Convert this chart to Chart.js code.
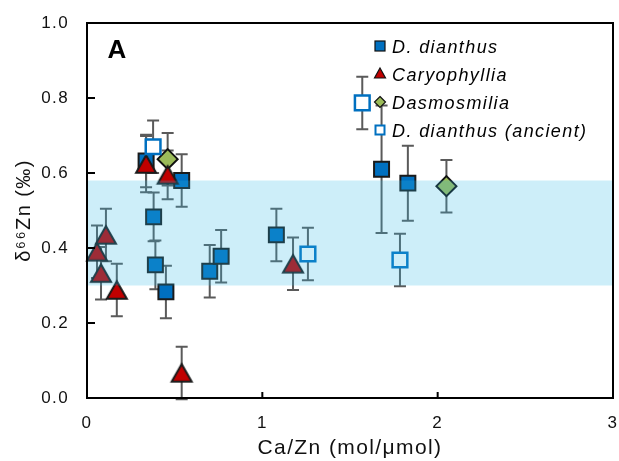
<!DOCTYPE html>
<html><head><meta charset="utf-8">
<script src="https://cdn.jsdelivr.net/npm/chart.js@4"></script>
<style>html,body{margin:0;padding:0;background:#fff}</style>
</head><body>
<canvas id="c" width="619" height="461"></canvas>
<script>
// ---- data ----
const ddX   = [0.337, 0.38, 0.39, 0.45, 0.54, 0.70, 0.765, 1.08, 1.68, 1.83];
const ddY   = [0.632, 0.483, 0.355, 0.283, 0.58, 0.338, 0.378, 0.435, 0.61, 0.573];
const ddErr = [0.07, 0.065, 0.065, 0.07, 0.07, 0.07, 0.07, 0.07, 0.17, 0.10];

const caX   = [0.057, 0.08, 0.108, 0.17, 0.337, 0.46, 0.54, 1.175];
const caY   = [0.39, 0.333, 0.435, 0.288, 0.624, 0.595, 0.067, 0.358];
const caErr = [0.07, 0.07, 0.07, 0.07, 0.075, 0.065, 0.07, 0.07];

const daX   = [0.46, 2.05];
const daY   = [0.637, 0.565];
const daErr = [0.07, 0.07];

const anX   = [0.377, 1.26, 1.57, 1.785];
const anY   = [0.67, 0.384, 0.787, 0.368];
const anErr = [0.07, 0.07, 0.07, 0.07];

const bandRange = [0.30, 0.58];
const seriesNames = ['D. dianthus', 'Caryophyllia', 'Dasmosmilia', 'D. dianthus (ancient)'];
const xTicks = [0, 1, 2, 3];
const yTicks = [0, 0.2, 0.4, 0.6, 0.8, 1.0];

const FONT = "'Liberation Sans', Arial, sans-serif";
const SPACING = '1.4px';

function triCanvas(side, fill, stroke, lw) {
  const h = side * Math.sqrt(3) / 2, pad = 3;
  const c = document.createElement('canvas');
  c.width = Math.ceil(side + pad * 2); c.height = Math.ceil(h + pad * 2);
  const g = c.getContext('2d');
  const cx = c.width / 2, top = (c.height - h) / 2;
  g.beginPath(); g.moveTo(cx, top); g.lineTo(cx + side / 2, top + h); g.lineTo(cx - side / 2, top + h); g.closePath();
  g.fillStyle = fill; g.fill(); g.lineWidth = lw; g.lineJoin = 'miter'; g.strokeStyle = stroke; g.stroke();
  return c;
}
const triImg = triCanvas(20, '#c00000', '#1a1a1a', 2);

const pts = (xs, ys) => xs.map((x, i) => ({x, y: ys[i]}));
const errGroups = [[ddX, ddY, ddErr], [caX, caY, caErr], [daX, daY, daErr], [anX, anY, anErr]];

const spacingPlugin = { id: 'spacing', beforeDraw(chart) { chart.ctx.letterSpacing = SPACING; } };

const errPlugin = {
  id: 'errbars',
  beforeDatasetsDraw(chart) {
    const {ctx, scales: {x, y}} = chart;
    ctx.save(); ctx.strokeStyle = '#5a5a5a'; ctx.lineWidth = 2;
    errGroups.forEach(([xs, ys, es]) => xs.forEach((xv, i) => {
      const px = x.getPixelForValue(xv);
      const t = y.getPixelForValue(ys[i] + es[i]), b = y.getPixelForValue(ys[i] - es[i]);
      ctx.beginPath();
      ctx.moveTo(px, t); ctx.lineTo(px, b);
      ctx.moveTo(px - 6, t); ctx.lineTo(px + 6, t);
      ctx.moveTo(px - 6, b); ctx.lineTo(px + 6, b);
      ctx.stroke();
    }));
    ctx.restore();
  }
};

const bandPlugin = {
  id: 'band',
  afterDatasetsDraw(chart) {
    const {ctx, chartArea: ca, scales: {y}} = chart;
    const t = y.getPixelForValue(bandRange[1]), b = y.getPixelForValue(bandRange[0]);
    ctx.save(); ctx.fillStyle = 'rgba(47,184,230,0.24)';
    ctx.fillRect(ca.left, t, ca.right - ca.left, b - t);
    ctx.restore();
  }
};

const framePlugin = {
  id: 'frame',
  afterDraw(chart) {
    const {ctx, chartArea: ca, scales: {x, y}} = chart;
    ctx.save();
    ctx.strokeStyle = '#000'; ctx.lineWidth = 2;
    ctx.strokeRect(ca.left, ca.top, ca.right - ca.left, ca.bottom - ca.top);
    ctx.beginPath();
    yTicks.forEach(v => { const p = y.getPixelForValue(v); ctx.moveTo(ca.left, p); ctx.lineTo(ca.left + 8, p); });
    xTicks.forEach(v => { const p = x.getPixelForValue(v); ctx.moveTo(p, ca.bottom); ctx.lineTo(p, ca.bottom - 6); });
    ctx.stroke();

    // panel letter
    ctx.letterSpacing = '0px';
    ctx.fillStyle = '#000'; ctx.font = "bold 26px " + FONT; ctx.textAlign = 'center'; ctx.textBaseline = 'alphabetic';
    ctx.fillText('A', ca.left + 30, ca.top + 35);

    // legend
    const mx = ca.left + 293, tx = ca.left + 305;
    const rows = [ca.top + 30, ca.top + 58, ca.top + 86, ca.top + 114];
    ctx.letterSpacing = SPACING;
    ctx.font = "italic 18px " + FONT; ctx.textAlign = 'left';
    rows.forEach((ry, i) => {
      const cy = ry - 7;
      ctx.lineWidth = 1.2;
      if (i === 0) { ctx.fillStyle = '#0070c0'; ctx.fillRect(mx - 5, cy - 5, 10, 10); ctx.strokeStyle = '#111'; ctx.strokeRect(mx - 5, cy - 5, 10, 10); }
      if (i === 1) { ctx.beginPath(); ctx.moveTo(mx, cy - 6); ctx.lineTo(mx + 5.5, cy + 4); ctx.lineTo(mx - 5.5, cy + 4); ctx.closePath(); ctx.fillStyle = '#c00000'; ctx.fill(); ctx.strokeStyle = '#111'; ctx.stroke(); }
      if (i === 2) { ctx.beginPath(); ctx.moveTo(mx, cy - 5.5); ctx.lineTo(mx + 5.5, cy); ctx.lineTo(mx, cy + 5.5); ctx.lineTo(mx - 5.5, cy); ctx.closePath(); ctx.fillStyle = '#9bbb59'; ctx.fill(); ctx.strokeStyle = '#111'; ctx.stroke(); }
      if (i === 3) { ctx.fillStyle = '#fff'; ctx.fillRect(mx - 5, cy - 5, 10, 10); ctx.lineWidth = 2; ctx.strokeStyle = '#0070c0'; ctx.strokeRect(mx - 4.5, cy - 4.5, 9, 9); }
      ctx.fillStyle = '#000';
      ctx.fillText(seriesNames[i], tx, ry);
    });
    ctx.restore();
  }
};

new Chart(document.getElementById('c'), {
  type: 'scatter',
  data: {
    datasets: [
      { label: seriesNames[0], data: pts(ddX, ddY), order: 4, clip: false, pointStyle: 'rect', pointRadius: 10.6,
        backgroundColor: '#0070c0', borderColor: '#1a1a1a', borderWidth: 2 },
      { label: seriesNames[1], data: pts(caX, caY), order: 2, clip: false, pointStyle: triImg, pointRadius: 11,
        backgroundColor: '#c00000', borderColor: '#1a1a1a', borderWidth: 2 },
      { label: seriesNames[2], data: pts(daX, daY), order: 3, clip: false, pointStyle: 'rectRot', pointRadius: 10,
        backgroundColor: '#9bbb59', borderColor: '#111', borderWidth: 2 },
      { label: seriesNames[3], data: pts(anX, anY), order: 1, clip: false, pointStyle: 'rect', pointRadius: 10.4,
        backgroundColor: '#ffffff', borderColor: '#0070c0', borderWidth: 2.5 }
    ]
  },
  options: {
    responsive: false, animation: false, events: [],
    layout: { autoPadding: false, padding: { top: 23, right: 6, left: 0, bottom: 0 } },
    plugins: { legend: { display: false }, tooltip: { enabled: false } },
    scales: {
      x: {
        type: 'linear', min: 0, max: 3,
        afterBuildTicks: s => { s.ticks = xTicks.map(v => ({value: v})); },
        afterFit: s => { s.height = 63; s.paddingLeft = 0; s.paddingRight = 0; },
        grid: { display: false, drawTicks: false }, border: { display: false },
        ticks: { color: '#111', padding: 15, font: { family: FONT, size: 17 }, callback: v => String(v) },
        title: { display: true, text: 'Ca/Zn (mol/μmol)', color: '#111', font: { family: FONT, size: 21 }, padding: { top: 0, bottom: 0 } }
      },
      y: {
        type: 'linear', min: 0, max: 1,
        afterBuildTicks: s => { s.ticks = yTicks.map(v => ({value: v})); },
        afterFit: s => { s.width = 87; s.paddingTop = 0; s.paddingBottom = 0; },
        grid: { display: false, drawTicks: false }, border: { display: false },
        ticks: { color: '#111', padding: 18, font: { family: FONT, size: 17 }, callback: v => Number(v).toFixed(1) },
        title: { display: true, text: 'δ⁶⁶Zn (‰)', color: '#111', font: { family: FONT, size: 20 }, padding: { top: 12, bottom: 0 } }
      }
    }
  },
  plugins: [spacingPlugin, errPlugin, bandPlugin, framePlugin]
});
</script>
</body></html>
